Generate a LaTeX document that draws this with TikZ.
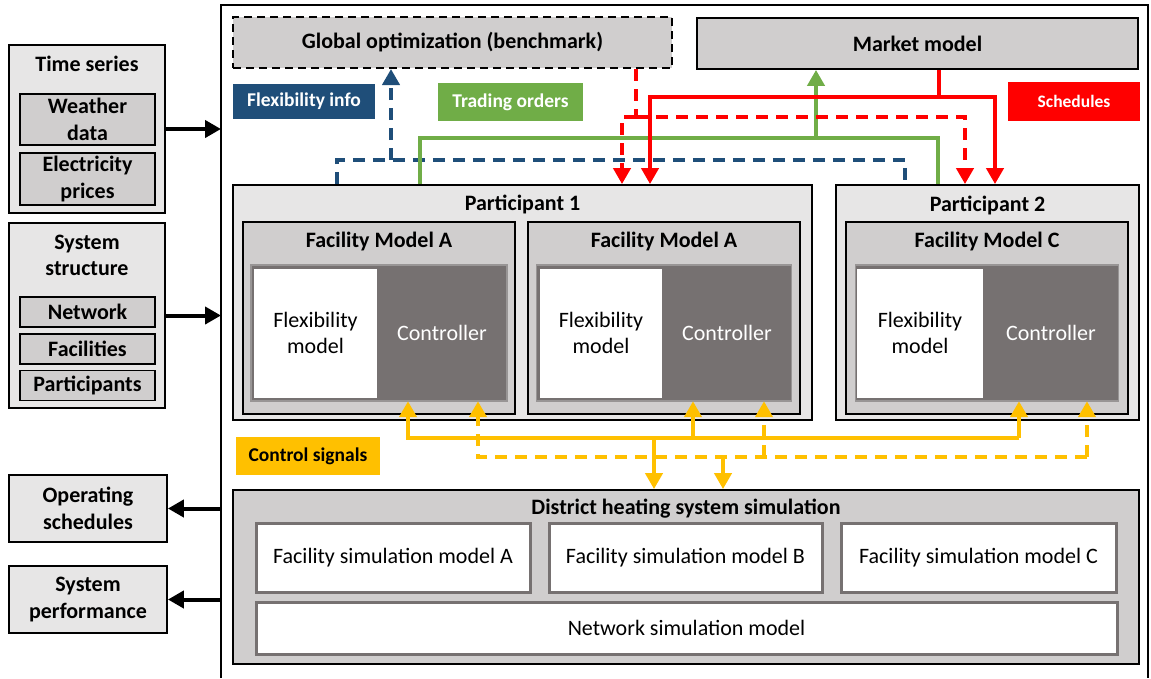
\documentclass[tikz,border=0pt]{standalone}
\usepackage{fontspec}
\setmainfont{Carlito}
\usetikzlibrary{arrows.meta, positioning, calc}
\definecolor{lightbox}{RGB}{231,230,230}
\definecolor{midbox}{RGB}{208,206,206}
\definecolor{darkbox}{RGB}{118,113,113}
\definecolor{flexblue}{RGB}{31,78,121}
\definecolor{tradegreen}{RGB}{112,173,71}
\definecolor{schedred}{RGB}{255,0,0}
\definecolor{ctrlyellow}{RGB}{255,192,0}

\begin{document}
\begin{tikzpicture}[x=1pt, y=-1pt,
    sz/.style 2 args={minimum width=#1pt, minimum height=#2pt},
    outerbox/.style={draw=black, line width=1.8pt, fill=lightbox, inner sep=0pt},
    itembox/.style={draw=black, line width=1.8pt, fill=midbox, inner sep=0pt, align=center,
        font=\bfseries\fontsize{22}{26.5}\selectfont},
    title/.style={inner sep=0pt, align=center, font=\bfseries\fontsize{22}{26.5}\selectfont},
    ctrlbox/.style={draw=darkbox!75, line width=1.5pt, fill=darkbox, inner sep=0pt},
    flexbox/.style={fill=white, inner sep=0pt, align=center, font=\fontsize{22}{26.5}\selectfont},
    ctrltext/.style={inner sep=0pt, text=white, font=\fontsize{22}{26.5}\selectfont},
    simbox/.style={draw=darkbox, line width=3pt, fill=white, inner sep=0pt,
        font=\fontsize{22}{26.5}\selectfont},
    tag/.style={inner sep=0pt, font=\bfseries\fontsize{19.5}{22}\selectfont},
    flow/.style={line width=4pt},
    headed/.style={-{Triangle[length=16pt, width=17pt]}},
    brokenline/.style={dash pattern=on 12pt off 8pt}]

    \useasboundingbox (0,0) rectangle (1151,678);

    % Main frame (runs off the bottom)
    \draw[line width=2pt] (221,678) |- (1148,5) -- (1148,678);
    \coordinate (fw) at (221,0);

    % Inputs on the left
    \node[outerbox, sz={156}{168}] (ts) at (87,129) {};
    \node[title] (tst) at (87,64) {Time series};
    \node[itembox, sz={135}{51}] (wd) at (87.5,119.5) {Weather\\data};
    \node[itembox, sz={135}{52}] (ep) at (87.5,179) {Electricity\\prices};

    \node[outerbox, sz={156}{185}] (ss) at (87,315.5) {};
    \node[title] (sst) at (87,255.5) {System\\structure};
    \foreach \nm/\y/\lab in {nw/312/Network, fc/349/Facilities, pt/385.5/Participants} {
        \node[itembox, sz={135}{30}] (\nm) at (87.5,\y) {\lab};
    }

    % Outputs on the left
    \node[itembox, fill=lightbox, sz={158}{67}] (ops) at (88,508.5) {Operating\\schedules};
    \node[itembox, fill=lightbox, sz={158}{67}] (perf) at (88,599.5) {System\\performance};

    \draw[flow, headed] (ts.east) -- (ts.east -| fw);
    \draw[flow, headed] (ss.east) -- (ss.east -| fw);
    \draw[flow, headed] (ops.east -| fw) -- (ops.east);
    \draw[flow, headed] (perf.east -| fw) -- (perf.east);

    % Top blocks
    \node[itembox, line width=2pt, dash pattern=on 8pt off 5pt, sz={439}{51}] (glob) at (452.5,42.5)
        {Global optimization (benchmark)};
    \node[itembox, sz={441}{51}] (market) at (917.5,43.5) {Market model};

    % Legend tags
    \node[tag, fill=flexblue, text=white, sz={142}{35}] (tflex) at (304,101.5) {Flexibility info};
    \node[tag, fill=tradegreen, text=white, sz={145}{38}] (ttrade) at (510.5,102) {Trading orders};
    \node[tag, fill=schedred, text=white, font=\bfseries\fontsize{17.5}{20}\selectfont,
        sz={132}{39}] (tsched) at (1074,101.5) {Schedules};
    \node[tag, fill=ctrlyellow, sz={144}{38}] (tctrl) at (308,456) {Control signals};

    % Participants
    \node[outerbox, sz={579}{235}] (p1) at (522.5,302.5) {};
    \node[title] (p1t) at (522.5,204) {Participant 1};
    \node[outerbox, sz={303}{235}] (p2) at (987.5,302.5) {};
    \node[title] (p2t) at (987.5,205) {Participant 2};

    % Facility models
    \foreach \nm/\cx/\w/\iw/\fx/\fw/\kx/\lab in {
        a/379/272/256/315.5/123/442/A,
        b/664/272/255/601/122/727/A,
        c/987/282/263/920/126/1051/C} {
        \node[itembox, sz={\w}{192}] (fm\nm) at (\cx,318) {};
        \node[title] (fm\nm t) at (\cx,242) {Facility Model \lab};
        \node[ctrlbox, sz={\iw}{136}] (in\nm) at (\cx,333) {};
        \node[flexbox, sz={\fw}{129}] (fx\nm) at (\fx,333) {Flexibility\\model};
        \node[ctrltext, sz={128}{136}] (ct\nm) at (\kx,333) {Controller};
    }

    % District heating simulation
    \node[itembox, sz={906}{174}] (dhs) at (686,577) {};
    \node[title] (dhst) at (686,509) {District heating system simulation};
    \node[simbox, sz={274}{69}] (fsa) at (393,557.5) {Facility simulation model A};
    \node[simbox, sz={273}{69}] (fsb) at (685.5,557.5) {Facility simulation model B};
    \node[simbox, sz={275}{69}] (fsc) at (978.5,557.5) {Facility simulation model C};
    \node[simbox, sz={861}{52}] (nsm) at (686.5,628) {Network simulation model};

    % Flexibility info
    \coordinate (b1) at (337,160);
    \coordinate (b2) at (905,160);
    \coordinate (bu) at (391,160);
    \draw[flow, flexblue, brokenline] (b1 |- p1.north) -- (b1) -- (b2) -- (b2 |- p2.north);
    \draw[flow, flexblue, brokenline, headed] (bu) -- (bu |- glob.south);

    % Trading orders
    \coordinate (g1) at (420,138);
    \coordinate (g2) at (938,138);
    \coordinate (gu) at (816,138);
    \draw[flow, tradegreen] (g1 |- p1.north) -- (g1) -- (g2) -- (g2 |- p2.north);
    \draw[flow, tradegreen, headed] (gu) -- (gu |- market.south);

    % Schedules from benchmark
    \coordinate (rd0) at (636,117);
    \coordinate (rd1) at (622,117);
    \coordinate (rd2) at (965,117);
    \draw[flow, schedred, brokenline] (rd0 |- glob.south) -- (rd0);
    \draw[flow, schedred, brokenline, headed] (rd0) -- (rd1) -- (rd1 |- p1.north);
    \draw[flow, schedred, brokenline, headed] (rd0) -- (rd2) -- (rd2 |- p2.north);

    % Schedules from market
    \coordinate (r0) at (939,97);
    \coordinate (r1) at (650,97);
    \coordinate (r2) at (995,97);
    \draw[flow, schedred] (r0 |- market.south) -- (r0);
    \draw[flow, schedred, headed] (r0) -- (r1) -- (r1 |- p1.north);
    \draw[flow, schedred, headed] (r0) -- (r2) -- (r2 |- p2.north);

    % Control signals
    \coordinate (y1) at (408,438);
    \coordinate (y2) at (693,438);
    \coordinate (y3) at (1019,438);
    \coordinate (yd) at (654,438);
    \draw[flow, ctrlyellow, headed] (y1 -| y3) -- (y1) -- (y1 |- cta.south);
    \draw[flow, ctrlyellow, headed] (y2) -- (y2 |- ctb.south);
    \draw[flow, ctrlyellow, headed] (y3) -- (y3 |- ctc.south);
    \draw[flow, ctrlyellow, headed] (yd) -- (yd |- dhs.north);

    \coordinate (z1) at (478,457);
    \coordinate (z2) at (764,457);
    \coordinate (z3) at (1087,457);
    \coordinate (zd) at (723,457);
    \draw[flow, ctrlyellow, brokenline, headed] (z3) -- (z1) -- (z1 |- cta.south);
    \draw[flow, ctrlyellow, brokenline, headed] (z2) -- (z2 |- ctb.south);
    \draw[flow, ctrlyellow, brokenline, headed] (z3) -- (z3 |- ctc.south);
    \draw[flow, ctrlyellow, headed] (zd) -- (zd |- dhs.north);
\end{tikzpicture}
\end{document}
